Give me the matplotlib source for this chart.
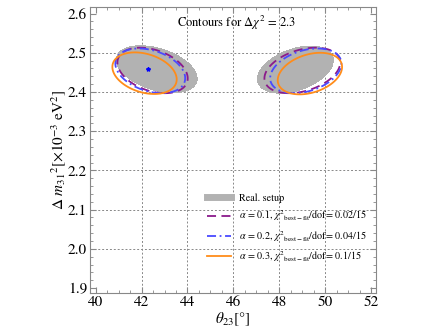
import numpy as np
import matplotlib
matplotlib.use('Agg')
import matplotlib.pyplot as plt
from matplotlib.lines import Line2D
from matplotlib.ticker import MultipleLocator, FormatStrFormatter

plt.rcParams['font.family'] = ['STIXGeneral', 'DejaVu Serif']
plt.rcParams['mathtext.fontset'] = 'stix'

# Delta chi^2 level drawn
chi2_level = 2.3

# contour models: centre (theta23, dm31), half-extent at the contour, correlation
# order: real setup, alpha = 0.1, 0.2, 0.3
labels = ['Real. setup',
          r'$\alpha$ = 0.1, $\chi^2{}_{\mathrm{best-fit}}$/dof= 0.02/15',
          r'$\alpha$ = 0.2, $\chi^2{}_{\mathrm{best-fit}}$/dof= 0.04/15',
          r'$\alpha$ = 0.3, $\chi^2{}_{\mathrm{best-fit}}$/dof= 0.1/15']
lo_theta = [42.66, 42.48, 42.38, 42.13]
lo_dm = [2.458, 2.455, 2.454, 2.448]
lo_corr = [-0.40, -0.35, -0.33, -0.30]
hi_theta = [48.70, 49.00, 49.15, 49.33]
hi_dm = [2.457, 2.455, 2.454, 2.447]
hi_corr = [0.40, 0.35, 0.33, 0.32]
half_theta_lo = [1.76, 1.53, 1.52, 1.40]
half_theta_hi = [1.65, 1.65, 1.55, 1.40]
half_dm = [0.060, 0.058, 0.057, 0.053]

best_fit = (42.26, 2.459)

colors = ['#b2b2b2', '#8b1a8b', '#4a4aff', '#ff8c1a']
styles = ['-', (0, (5, 3)), (0, (5, 2, 1, 2)), '-']

fig = plt.figure(figsize=(4.3, 3.32), dpi=100)
ax = fig.add_axes([0.209, 0.117, 0.665, 0.861])

th = np.linspace(39.5, 52.5, 700)
dm = np.linspace(1.85, 2.65, 700)
TH, DM = np.meshgrid(th, dm)


def chi2_map(i):
    out = []
    for x0, y0, r, hx in [(lo_theta[i], lo_dm[i], lo_corr[i], half_theta_lo[i]),
                          (hi_theta[i], hi_dm[i], hi_corr[i], half_theta_hi[i])]:
        sx = hx / np.sqrt(chi2_level)
        sy = half_dm[i] / np.sqrt(chi2_level)
        u = (TH - x0) / sx
        v = (DM - y0) / sy
        out.append((u**2 - 2*r*u*v + v**2) / (1 - r**2))
    return np.minimum(out[0], out[1])


# real setup: filled region
ax.contourf(TH, DM, chi2_map(0), levels=[0, chi2_level], colors=[colors[0]])
for i in range(1, 4):
    ax.contour(TH, DM, chi2_map(i), levels=[chi2_level], colors=[colors[i]],
               linewidths=1.3, linestyles=[styles[i]])

ax.plot(*best_fit, marker='*', color='blue', markersize=3, linestyle='none')

ax.set_xlim(39.75, 52.2)
ax.set_ylim(1.887, 2.616)
ax.xaxis.set_major_locator(MultipleLocator(2))
ax.xaxis.set_minor_locator(MultipleLocator(0.5))
ax.yaxis.set_major_locator(MultipleLocator(0.1))
ax.yaxis.set_minor_locator(MultipleLocator(0.02))
ax.yaxis.set_major_formatter(FormatStrFormatter('%.1f'))
ax.tick_params(which='both', direction='in', top=True, right=True, color='#888888',
               labelsize=11, pad=2)
ax.tick_params(which='major', length=4)
ax.tick_params(which='minor', length=2)
for s in ax.spines.values():
    s.set_color('#888888')

# dotted grid on the inner major ticks only
for x in ax.get_xticks():
    if 40 < x < 52:
        ax.axvline(x, color='#888888', linestyle=(0, (2, 2)), linewidth=0.7, zorder=0)
for y in ax.get_yticks():
    if 1.95 < y < 2.55:
        ax.axhline(y, color='#888888', linestyle=(0, (2, 2)), linewidth=0.7, zorder=0)

ax.set_xlabel(r'$\theta_{23}[°]$', fontsize=11, labelpad=1)
ax.set_ylabel(r'$\Delta\ m_{31}{}^{2}[\times10^{-3}\ \mathrm{eV}^{2}]$', fontsize=11, labelpad=0)

ax.text(46.15, 2.576, r'Contours for $\Delta\chi^2$ = 2.3', fontsize=9, ha='center', va='center')

handles = [Line2D([], [], color=colors[0], linewidth=5)]
for i in range(1, 4):
    handles.append(Line2D([], [], color=colors[i], linewidth=1.3, linestyle=styles[i]))
ax.legend(handles, labels, loc='lower right', bbox_to_anchor=(1.0, 0.07), frameon=False,
          fontsize=7.3, handlelength=2.3, handletextpad=0.8, labelspacing=0.55)

fig.savefig('out.png', dpi=100)
